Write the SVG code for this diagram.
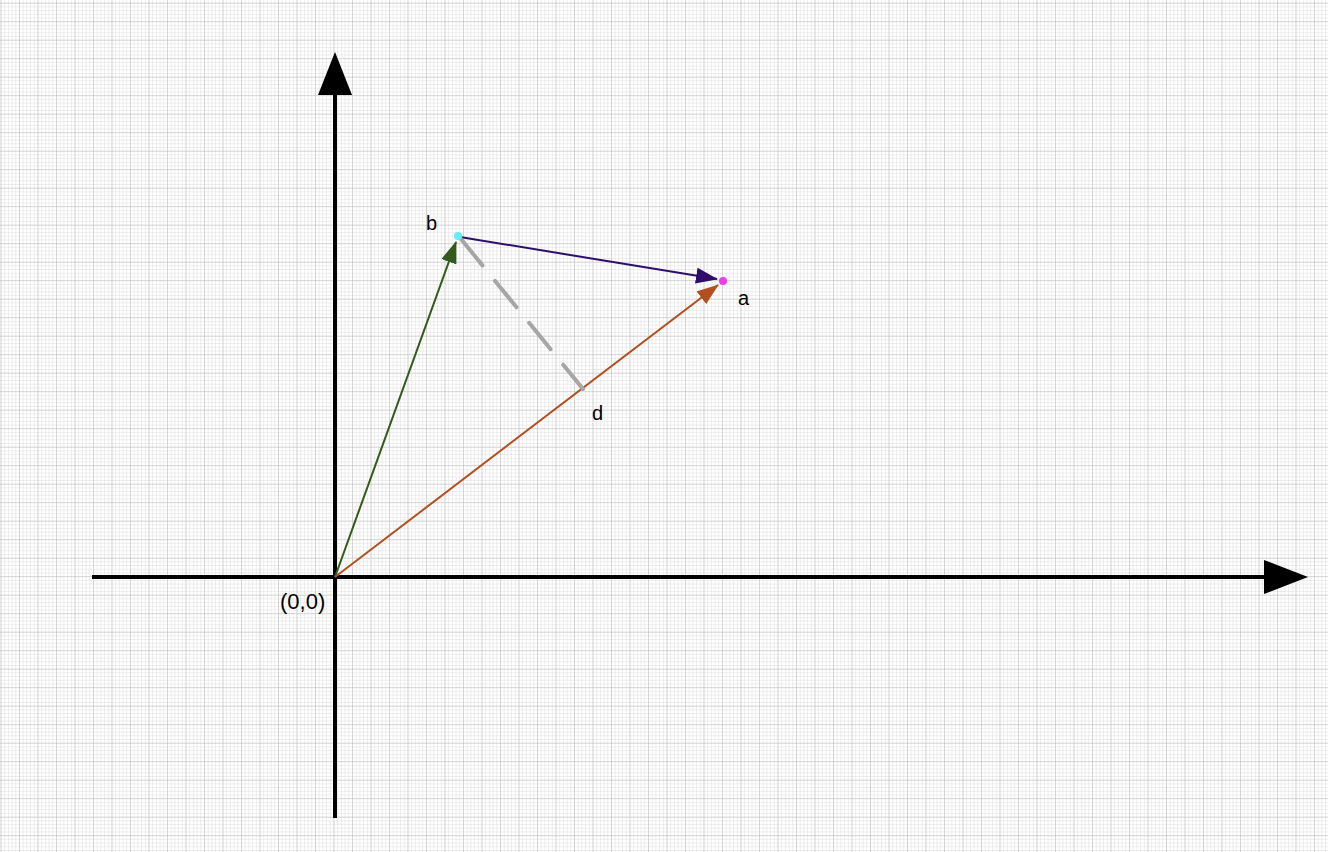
<svg xmlns="http://www.w3.org/2000/svg" width="1328" height="852" viewBox="0 0 1328 852">
<defs>
<pattern id="minor" x="0.5" y="2.7" width="3.7" height="3.7" patternUnits="userSpaceOnUse">
<path d="M0 0H3.7M0 0V3.7" fill="none" stroke="#dcdcdc" stroke-width="1"/>
</pattern>
<pattern id="major" x="0.5" y="2.7" width="18.5" height="18.5" patternUnits="userSpaceOnUse">
<path d="M0 0H18.5M0 0V18.5" fill="none" stroke="#bdbdbd" stroke-width="1"/>
</pattern>
<marker id="mGreen" viewBox="0 0 22 16" refX="21" refY="8" markerWidth="22" markerHeight="16" markerUnits="userSpaceOnUse" orient="auto"><path d="M0 0L22 8L0 16Z" fill="#335a1c"/></marker>
<marker id="mBrown" viewBox="0 0 22 16" refX="21" refY="8" markerWidth="22" markerHeight="16" markerUnits="userSpaceOnUse" orient="auto"><path d="M0 0L22 8L0 16Z" fill="#b04f1f"/></marker>
<marker id="mPurple" viewBox="0 0 22 16" refX="21" refY="8" markerWidth="22" markerHeight="16" markerUnits="userSpaceOnUse" orient="auto"><path d="M0 0L22 8L0 16Z" fill="#2f0e6a"/></marker>
</defs>
<style>
.axis{stroke:#000;stroke-width:4;fill:none}
.lbl{font-family:"Liberation Sans",Arial,sans-serif;font-size:20px;fill:#000}
</style>
<rect width="1328" height="852" fill="#fff"/>
<rect width="1328" height="852" fill="url(#minor)"/>
<rect width="1328" height="852" fill="url(#major)"/>
<g id="axes">
<line class="axis" x1="335" y1="818" x2="335" y2="92"/>
<path d="M335 52L352 95L318 95Z" fill="#000"/>
<line class="axis" x1="92" y1="577" x2="1265" y2="577"/>
<path d="M1308 577L1264 594L1264 560Z" fill="#000"/>
</g>
<g id="connectors">
<line x1="335" y1="577" x2="456" y2="242" stroke="#335a1c" stroke-width="2" marker-end="url(#mGreen)"/>
<line x1="335" y1="577" x2="718" y2="285" stroke="#b04f1f" stroke-width="2" marker-end="url(#mBrown)"/>
<line x1="460" y1="237" x2="717" y2="279" stroke="#2f0e6a" stroke-width="2" marker-end="url(#mPurple)"/>
<line x1="461" y1="239" x2="583" y2="389" stroke="#a6a6a6" stroke-width="4" stroke-dasharray="34 20" stroke-linecap="round"/>
</g>
<g id="b"><circle cx="458" cy="236" r="4" fill="#66ecf7"/><text class="lbl" x="426" y="230">b</text></g>
<g id="a"><circle cx="723" cy="281" r="4" fill="#ec3cf0"/><text class="lbl" x="738" y="305">a</text></g>
<g id="d"><text class="lbl" x="592" y="420">d</text></g>
<g id="origin"><text class="lbl" x="280" y="609" style="font-size:22px">(0,0)</text></g>
</svg>
